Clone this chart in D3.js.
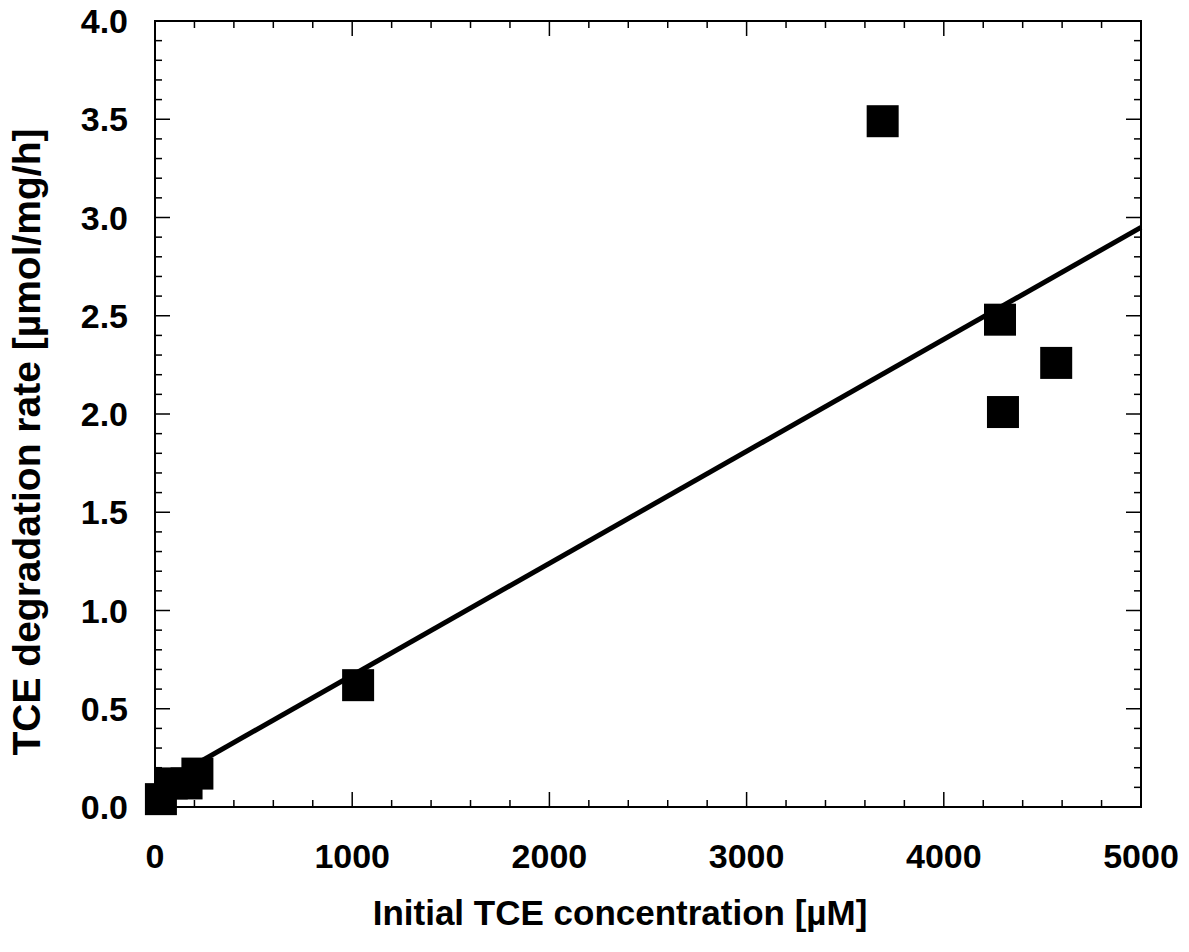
<!DOCTYPE html>
<html>
<head>
<meta charset="utf-8">
<script src="https://cdn.jsdelivr.net/npm/d3@7"></script>
<style>
  html, body { margin: 0; padding: 0; background: #fff; }
  svg { display: block; }
  text { font-family: "Liberation Sans", Arial, sans-serif; font-weight: bold; fill: #000; }
</style>
</head>
<body>
<svg id="chart" width="1189" height="952"></svg>
<script>
// Initial TCE concentration (µM) and measured degradation rate (µmol/mg/h)
const concentration = [30, 85, 160, 215, 1030, 3690, 4285, 4300, 4570];
const rate = [0.04, 0.12, 0.12, 0.17, 0.62, 3.49, 2.48, 2.01, 2.26];

// Linear fit through the data
const fitX = [0, 5000];
const fitY = [0.10, 2.95];

// Axis ticks
const xMajorTicks = [0, 1000, 2000, 3000, 4000, 5000];
const yMajorTicks = [0.0, 0.5, 1.0, 1.5, 2.0, 2.5, 3.0, 3.5, 4.0];

const svg = d3.select("#chart");
const plotL = 155, plotR = 1141, plotT = 21, plotB = 807;

const x = d3.scaleLinear().domain([0, 5000]).range([plotL, plotR]);
const y = d3.scaleLinear().domain([0, 4]).range([plotB, plotT]);

const xMinor = d3.range(0, 5001, 200).filter(v => v % 1000 !== 0);
const yMinor = d3.range(0, 41, 1).map(v => v / 10).filter(v => Math.round(v * 10) % 5 !== 0);

const majorLen = 15, minorLen = 7;
const g = svg.append("g");

// Frame
g.append("rect")
  .attr("x", plotL).attr("y", plotT)
  .attr("width", plotR - plotL).attr("height", plotB - plotT)
  .attr("fill", "none").attr("stroke", "#000").attr("stroke-width", 2);

// Inward ticks on all four sides
function xTicks(vals, len) {
  vals.forEach(v => {
    g.append("line").attr("x1", x(v)).attr("x2", x(v)).attr("y1", plotB).attr("y2", plotB - len)
      .attr("stroke", "#000").attr("stroke-width", 1.5);
    g.append("line").attr("x1", x(v)).attr("x2", x(v)).attr("y1", plotT).attr("y2", plotT + len)
      .attr("stroke", "#000").attr("stroke-width", 1.5);
  });
}
function yTicks(vals, len) {
  vals.forEach(v => {
    g.append("line").attr("x1", plotL).attr("x2", plotL + len).attr("y1", y(v)).attr("y2", y(v))
      .attr("stroke", "#000").attr("stroke-width", 1.5);
    g.append("line").attr("x1", plotR).attr("x2", plotR - len).attr("y1", y(v)).attr("y2", y(v))
      .attr("stroke", "#000").attr("stroke-width", 1.5);
  });
}
xTicks(xMajorTicks, majorLen);
xTicks(xMinor, minorLen);
yTicks(yMajorTicks, majorLen);
yTicks(yMinor, minorLen);

// Tick labels
g.selectAll(".xl").data(xMajorTicks).enter().append("text")
  .attr("x", d => x(d)).attr("y", 868)
  .attr("text-anchor", "middle").attr("font-size", 34)
  .text(d => d3.format("d")(d));

g.selectAll(".yl").data(yMajorTicks).enter().append("text")
  .attr("x", 128).attr("y", d => y(d))
  .attr("dy", "0.36em")
  .attr("text-anchor", "end").attr("font-size", 34)
  .text(d => d3.format(".1f")(d));

// Fit line
const line = d3.line().x((d, i) => x(fitX[i])).y(d => y(d));
g.append("path").datum(fitY)
  .attr("d", line)
  .attr("fill", "none").attr("stroke", "#000").attr("stroke-width", 5);

// Data markers
const s = 32;
g.selectAll(".pt").data(concentration).enter().append("rect")
  .attr("x", d => x(d) - s / 2)
  .attr("y", (d, i) => y(rate[i]) - s / 2)
  .attr("width", s).attr("height", s)
  .attr("fill", "#000");

// Axis titles
svg.append("text")
  .attr("x", 620).attr("y", 925)
  .attr("text-anchor", "middle").attr("font-size", 35)
  .text("Initial TCE concentration [µM]");

svg.append("text")
  .attr("transform", "translate(40,442) rotate(-90)")
  .attr("text-anchor", "middle").attr("font-size", 39)
  .text("TCE degradation rate [µmol/mg/h]");
</script>
</body>
</html>
